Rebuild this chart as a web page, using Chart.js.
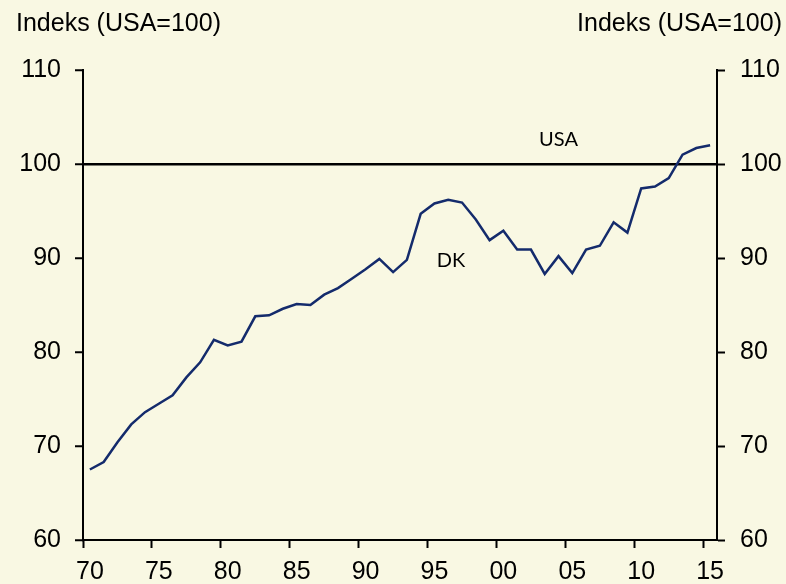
<!DOCTYPE html>
<html>
<head>
<meta charset="utf-8">
<script src="https://cdn.jsdelivr.net/npm/chart.js@4"></script>
<style>
  html, body { margin: 0; padding: 0; background: #f9f8e3; }
  #wrap { width: 786px; height: 584px; }
</style>
</head>
<body>
<div id="wrap"><canvas id="grafik" width="786" height="584"></canvas></div>
<script>
// år 1970-2015
const years = [1970, 1971, 1972, 1973, 1974, 1975, 1976, 1977, 1978, 1979,
  1980, 1981, 1982, 1983, 1984, 1985, 1986, 1987, 1988, 1989,
  1990, 1991, 1992, 1993, 1994, 1995, 1996, 1997, 1998, 1999,
  2000, 2001, 2002, 2003, 2004, 2005, 2006, 2007, 2008, 2009,
  2010, 2011, 2012, 2013, 2014, 2015];

// Danmark, indeks USA=100
const dk = [67.5, 68.3, 70.4, 72.3, 73.6, 74.5, 75.4, 77.3, 78.9, 81.3,
  80.7, 81.1, 83.8, 83.9, 84.6, 85.1, 85.0, 86.1, 86.8, 87.8,
  88.8, 89.9, 88.5, 89.8, 94.7, 95.8, 96.2, 95.9, 94.1, 91.9,
  92.9, 90.9, 90.9, 88.3, 90.2, 88.4, 90.9, 91.3, 93.8, 92.7,
  97.4, 97.6, 98.5, 101.0, 101.7, 102.0];

const usaLevel = 100;
const yTicks = [60, 70, 80, 90, 100, 110];
const seriesNames = ['DK', 'USA'];
const axisTitle = 'Indeks (USA=100)';

const tickFont = { family: '"Liberation Sans", Arial, sans-serif', size: 25 };
const black = '#000000';
const clear = 'rgba(0,0,0,0)';

// tekster: akse-titler og serienavne
const tekstPlugin = {
    id: 'tekster',
    afterDraw(chart) {
        const ctx = chart.ctx;
        const x = chart.scales.x;
        const y = chart.scales.y;
        ctx.save();
        ctx.fillStyle = black;
        ctx.font = '25px "Liberation Sans", Arial, sans-serif';
        ctx.textBaseline = 'alphabetic';
        ctx.textAlign = 'left';
        ctx.fillText(axisTitle, 16, 31);
        ctx.textAlign = 'right';
        ctx.fillText(axisTitle, 782, 31);

        // serienavne placeret i data-enheder
        ctx.font = '20px Lato, "Open Sans", sans-serif';
        ctx.textAlign = 'center';
        ctx.textBaseline = 'middle';
        const navne = [
            { text: seriesNames[1], year: 2004, value: 102.6 },
            { text: seriesNames[0], year: 1996.2, value: 89.7 }
        ];
        navne.forEach(n => {
            const px = x.getPixelForValue(n.year - years[0]);
            const py = y.getPixelForValue(n.value);
            ctx.fillText(n.text, px, py);
        });
        ctx.restore();
    }
};

new Chart(document.getElementById('grafik'), {
    type: 'line',
    data: {
        labels: years.map(String),
        datasets: [{
            label: seriesNames[0],
            data: dk,
            borderColor: '#142b6c',
            borderWidth: 2.5,
            pointRadius: 0,
            tension: 0,
            fill: false
        }]
    },
    options: {
        responsive: false,
        animation: false,
        devicePixelRatio: 1,
        layout: { padding: { top: 70, left: 0, right: 0, bottom: 0 } },
        plugins: {
            legend: { display: false },
            tooltip: { enabled: false }
        },
        scales: {
            x: {
                type: 'category',
                offset: true,
                grid: {
                    offset: true,
                    drawOnChartArea: false,
                    tickLength: 8,
                    tickWidth: 2,
                    color: clear,
                    tickColor: ctx => (ctx.index !== undefined && ctx.index % 5 === 0) ? black : clear
                },
                border: { color: black, width: 2 },
                ticks: {
                    autoSkip: false,
                    maxRotation: 0,
                    padding: 9,
                    color: black,
                    font: tickFont,
                    callback: (v, i) => (years[i] % 5 === 0) ? String(years[i]).slice(2) : ''
                },
                afterFit: s => { s.height = 44; }
            },
            y: {
                position: 'left',
                min: yTicks[0],
                max: yTicks[yTicks.length - 1],
                afterBuildTicks: s => { s.ticks = yTicks.map(v => ({ value: v })); },
                grid: {
                    tickLength: 8,
                    tickWidth: 2,
                    lineWidth: 2.5,
                    tickColor: black,
                    color: ctx => (ctx.tick && ctx.tick.value === usaLevel) ? black : clear
                },
                border: { color: black, width: 2 },
                ticks: { padding: 14, color: black, font: tickFont },
                afterFit: s => { s.width = 83; }
            },
            y2: {
                position: 'right',
                min: yTicks[0],
                max: yTicks[yTicks.length - 1],
                afterBuildTicks: s => { s.ticks = yTicks.map(v => ({ value: v })); },
                grid: {
                    drawOnChartArea: false,
                    tickLength: 8,
                    tickWidth: 2,
                    tickColor: black,
                    color: clear
                },
                border: { color: black, width: 2 },
                ticks: { padding: 15, color: black, font: tickFont },
                afterFit: s => { s.width = 69; }
            }
        }
    },
    plugins: [tekstPlugin]
});
</script>
</body>
</html>
